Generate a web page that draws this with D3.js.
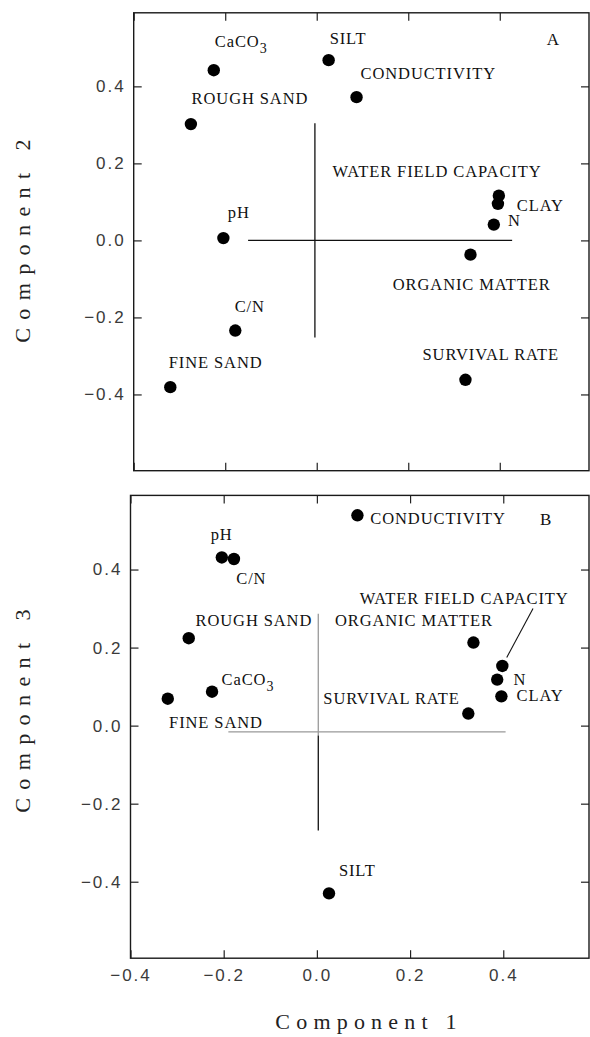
<!DOCTYPE html>
<html><head><meta charset="utf-8">
<script src="https://cdn.jsdelivr.net/npm/d3@7"></script>
<style>html,body{margin:0;padding:0;background:#fff;} svg{display:block;}</style>
</head><body><svg id="chart" width="590" height="1037"></svg>
<script>
// ---------- DATA ----------
const variables = ["CaCO3", "SILT", "CONDUCTIVITY", "ROUGH SAND", "WATER FIELD CAPACITY", "CLAY", "N", "pH", "ORGANIC MATTER", "C/N", "FINE SAND", "SURVIVAL RATE"];
const component1 = [-0.225, 0.026, 0.087, -0.275, 0.398, 0.396, 0.387, -0.204, 0.336, -0.178, -0.320, 0.325];
const component2 = [0.442, 0.468, 0.372, 0.302, 0.116, 0.095, 0.041, 0.006, -0.037, -0.234, -0.381, -0.362];
const component3 = [0.087, -0.430, 0.539, 0.224, 0.153, 0.075, 0.118, 0.431, 0.213, 0.427, 0.069, 0.031];
const tickValues = [-0.4, -0.2, 0.0, 0.2, 0.4];
const axisTitles = ["Component 1", "Component 2", "Component 3"];
const panelLetters = ["A", "B"];
// reference cross lines (data units)
const crossHorizontalA = [[-0.150, 0.0], [0.427, 0.0]];
const crossVerticalA = [[-0.004, 0.304], [-0.004, -0.252]];
const crossHorizontalB = [[-0.190, -0.016], [0.405, -0.016]];
const crossVerticalB = [[0.003, 0.287], [0.003, -0.025], [0.003, -0.269]];

// ---------- LAYOUT (pixels) ----------
const labelOffsetsA = [[1,-23],[1,-16.3],[4,-18.5],[0.7,-19.6],[-166.3,-18.5],[18.9,7.5],[14.2,1],[4.4,-20.3],[-77.7,35.5],[-0.6,-18.6],[-1.6,-19.3],[-42.9,-19.6]];
const labelOffsetsB = [[9.5,-6.4],[9.9,-17.3],[12.9,8.4],[6.8,-12.5],[-142.7,-61.8],[15.2,5],[16.3,5],[-11.2,-17.9],[-138.5,-16.9],[2.3,25],[1.3,29.4],[-145,-9.5]];

const svg = d3.select("#chart");
const fmt = d3.format(".1f");
const serif = "'Liberation Serif', 'Times New Roman', serif";
const sans = "'Liberation Sans', Arial, sans-serif";

const panels = [
  { letter: panelLetters[0], yVals: component2, xDomain: [-0.4, 0.595], yDomain: [-0.598, 0.591],
    frame: {l: 133.7, t: 12.8, r: 589, b: 470.7}, offsets: labelOffsetsA,
    title: axisTitles[1], titleY: 237, letterPos: [413, 32.2], xLabels: false,
    crossH: crossHorizontalA, crossV: crossVerticalA, leader: null },
  { letter: panelLetters[1], yVals: component3, xDomain: [-0.4, 0.584], yDomain: [-0.596, 0.590],
    frame: {l: 130.5, t: 495.4, r: 589, b: 958.2}, offsets: labelOffsetsB,
    title: axisTitles[2], titleY: 707, letterPos: [409.5, 29.4], xLabels: true,
    crossH: crossHorizontalB, crossV: crossVerticalB, leader: {index: 4, from: [30.7, -57.4], to: [4.4, -8.4]} }
];

panels.forEach(p => {
  const g = svg.append("g");
  const x = d3.scaleLinear().domain(p.xDomain).range([p.frame.l, p.frame.r]);
  const y = d3.scaleLinear().domain(p.yDomain).range([p.frame.b, p.frame.t]);
  const line = d3.line().x(d => x(d[0])).y(d => y(d[1]));

  // cross lines
  if (p.letter === "A") {
    g.append("path").attr("d", line(p.crossH)).attr("fill", "none").attr("stroke", "#111").attr("stroke-width", 1.2);
    g.append("path").attr("d", line(p.crossV)).attr("fill", "none").attr("stroke", "#111").attr("stroke-width", 1.3);
  } else {
    g.append("path").attr("d", line(p.crossH)).attr("fill", "none").attr("stroke", "#999").attr("stroke-width", 1.3);
    g.append("path").attr("d", line(p.crossV.slice(0, 2))).attr("fill", "none").attr("stroke", "#999").attr("stroke-width", 1.3);
    g.append("path").attr("d", line(p.crossV.slice(1))).attr("fill", "none").attr("stroke", "#111").attr("stroke-width", 1.3);
  }

  // axes
  const styleAxis = sel => {
    sel.select(".domain").remove();
    sel.selectAll(".tick line").attr("stroke", "#222").attr("stroke-width", 1.2);
    sel.selectAll(".tick text").attr("fill", "#3a3a3a").style("font-family", sans)
      .style("font-size", "17px").style("letter-spacing", "2px");
  };
  g.append("g").attr("transform", `translate(${p.frame.l},0)`)
    .call(d3.axisLeft(y).tickValues(tickValues).tickSize(-8).tickPadding(8).tickFormat(fmt)).call(styleAxis);
  g.append("g").attr("transform", `translate(${p.frame.r},0)`)
    .call(d3.axisRight(y).tickValues(tickValues).tickSize(-8).tickFormat("")).call(styleAxis);
  g.append("g").attr("transform", `translate(0,${p.frame.t})`)
    .call(d3.axisTop(x).tickValues(tickValues).tickSize(-8).tickFormat("")).call(styleAxis);
  g.append("g").attr("transform", `translate(0,${p.frame.b})`)
    .call(d3.axisBottom(x).tickValues(tickValues).tickSize(-8).tickPadding(10.5).tickFormat(p.xLabels ? fmt : "")).call(styleAxis);

  // frame
  g.append("rect").attr("x", p.frame.l).attr("y", p.frame.t)
    .attr("width", p.frame.r - p.frame.l).attr("height", p.frame.b - p.frame.t)
    .attr("fill", "none").attr("stroke", "#1a1a1a").attr("stroke-width", 1.4);

  // points
  g.selectAll("circle.pt").data(variables).join("circle").attr("class", "pt")
    .attr("cx", (d, i) => x(component1[i])).attr("cy", (d, i) => y(p.yVals[i]))
    .attr("r", 6.2).attr("fill", "#000");

  // labels
  const lab = g.selectAll("text.lab").data(variables).join("text").attr("class", "lab")
    .attr("x", (d, i) => x(component1[i]) + p.offsets[i][0])
    .attr("y", (d, i) => y(p.yVals[i]) + p.offsets[i][1])
    .attr("fill", "#111").style("font-family", serif).style("font-size", "16.5px").style("letter-spacing", "0.9px");
  lab.each(function(d) {
    const t = d3.select(this);
    if (d === "CaCO3") {
      t.append("tspan").text("CaCO");
      t.append("tspan").attr("dy", 5.5).style("font-size", "14px").text("3");
    } else {
      t.text(d);
    }
  });

  // leader line
  if (p.leader) {
    const i = p.leader.index;
    const cx = x(component1[i]), cy = y(p.yVals[i]);
    g.append("line").attr("x1", cx + p.leader.from[0]).attr("y1", cy + p.leader.from[1])
      .attr("x2", cx + p.leader.to[0]).attr("y2", cy + p.leader.to[1])
      .attr("stroke", "#111").attr("stroke-width", 1.1);
  }

  // panel letter
  g.append("text").attr("x", p.frame.l + p.letterPos[0]).attr("y", p.frame.t + p.letterPos[1])
    .attr("fill", "#111").style("font-family", serif).style("font-size", "17px").text(p.letter);

  // y title
  g.append("text").attr("transform", `translate(30,${p.titleY}) rotate(-90)`)
    .attr("text-anchor", "middle").attr("fill", "#222")
    .style("font-family", serif).style("font-size", "22px").style("letter-spacing", "8.4px")
    .text(p.title);
});

// x title
svg.append("text").attr("x", 369).attr("y", 1029).attr("text-anchor", "middle").attr("fill", "#222")
  .style("font-family", serif).style("font-size", "22px").style("letter-spacing", "6.2px")
  .text(axisTitles[0]);
</script></body></html>
